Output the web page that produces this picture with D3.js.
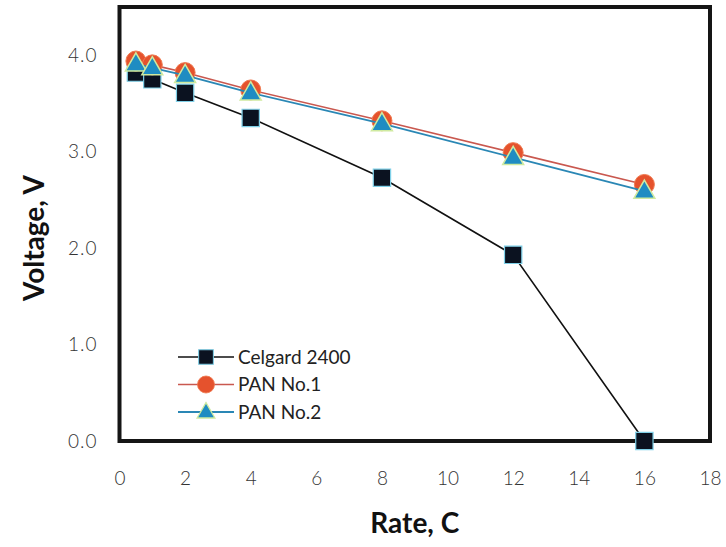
<!DOCTYPE html>
<html>
<head>
<meta charset="utf-8">
<script src="https://cdn.jsdelivr.net/npm/d3@7"></script>
<style>
  body { margin: 0; background: #fff; }
  text { font-family: Lato, "Open Sans", sans-serif; }
</style>
</head>
<body>
<script>
// data
var rates = [0.5, 1, 2, 4, 8, 12, 16];
var celgard = [3.82, 3.75, 3.61, 3.35, 2.73, 1.93, 0.0];
var pan1 = [3.94, 3.90, 3.82, 3.64, 3.32, 2.99, 2.66];
var pan2 = [3.91, 3.87, 3.79, 3.61, 3.29, 2.94, 2.59];
var seriesNames = ["Celgard 2400", "PAN No.1", "PAN No.2"];
var xTicks = [0, 2, 4, 6, 8, 10, 12, 14, 16, 18];
var yTicks = [0, 1, 2, 3, 4];

var W = 726, H = 547;
var margin = {top: 7, right: 16, bottom: 106, left: 119.5},
    width = W - margin.left - margin.right,
    height = H - margin.top - margin.bottom;

var svg = d3.select("body").append("svg")
    .attr("width", W)
    .attr("height", H);

var g = svg.append("g")
    .attr("transform", "translate(" + margin.left + "," + margin.top + ")");

var x = d3.scaleLinear().domain([0, 18]).range([0, width]);
var y = d3.scaleLinear().domain([0, 4.5]).range([height, 0]);

// axes: tick labels only, frame drawn separately
var xAxis = g.append("g")
    .attr("transform", "translate(0," + height + ")")
    .call(d3.axisBottom(x).tickValues(xTicks).tickSize(0).tickPadding(31).tickFormat(d3.format("d")));
xAxis.select(".domain").remove();
xAxis.selectAll("text").style("font-size", "19px").attr("fill", "#333").style("font-weight", 300);

var yAxis = g.append("g")
    .call(d3.axisLeft(y).tickValues(yTicks).tickSize(0).tickPadding(22).tickFormat(d3.format(".1f")));
yAxis.select(".domain").remove();
yAxis.selectAll("text").style("font-size", "19px").attr("fill", "#333").style("font-weight", 300)
    .style("letter-spacing", "1px");

// plot frame
g.append("rect")
    .attr("width", width)
    .attr("height", height)
    .attr("fill", "none")
    .attr("stroke", "#151515")
    .attr("stroke-width", 4);

var series = [
  {name: seriesNames[0], values: celgard, line: "#111", sw: 1.6, shape: "square"},
  {name: seriesNames[1], values: pan1, line: "#c9584f", sw: 1.6, shape: "circle"},
  {name: seriesNames[2], values: pan2, line: "#2a87b5", sw: 1.8, shape: "triangle"}
];

var line = d3.line()
    .x(function(d) { return x(d[0]); })
    .y(function(d) { return y(d[1]); });

function drawMarker(sel, shape) {
  if (shape === "square") {
    sel.append("path")
      .attr("d", d3.symbol().type(d3.symbolSquare).size(300))
      .attr("fill", "#0b1220")
      .attr("stroke", "#7fd0e8")
      .attr("stroke-width", 1.2);
  } else if (shape === "circle") {
    sel.append("circle")
      .attr("r", 10)
      .attr("fill", "#e5522d")
      .attr("stroke", "#f07a50")
      .attr("stroke-width", 1);
  } else {
    sel.append("path")
      .attr("d", d3.symbol().type(d3.symbolTriangle).size(190))
      .attr("transform", "translate(0,1)")
      .attr("fill", "#1f8cc2")
      .attr("stroke", "#cfeaa0")
      .attr("stroke-width", 1.5);
  }
}

series.forEach(function(s) {
  var pts = rates.map(function(r, i) { return [r, s.values[i]]; });
  g.append("path")
    .datum(pts)
    .attr("fill", "none")
    .attr("stroke", s.line)
    .attr("stroke-width", s.sw)
    .attr("d", line);
  g.selectAll(null)
    .data(pts)
    .enter().append("g")
    .attr("transform", function(d) { return "translate(" + x(d[0]) + "," + y(d[1]) + ")"; })
    .each(function() { drawMarker(d3.select(this), s.shape); });
});

// legend
var legend = svg.append("g").attr("transform", "translate(178,357)");
series.forEach(function(s, i) {
  var row = legend.append("g").attr("transform", "translate(0," + (i * 27.5) + ")");
  row.append("line")
    .attr("x1", 0).attr("x2", 56)
    .attr("stroke", s.line)
    .attr("stroke-width", s.sw);
  var m = row.append("g").attr("transform", "translate(28,0) scale(0.85)");
  drawMarker(m, s.shape);
  row.append("text")
    .attr("x", 60)
    .attr("dy", "0.35em")
    .style("font-size", "19px")
    .attr("fill", "#222")
    .text(s.name);
});

// axis titles
svg.append("text")
    .attr("x", margin.left + width / 2)
    .attr("y", 533)
    .attr("text-anchor", "middle")
    .style("font-size", "28px")
    .style("font-weight", "bold")
    .attr("fill", "#111")
    .text("Rate, C");

svg.append("text")
    .attr("transform", "translate(44," + (margin.top + height / 2 + 14) + ") rotate(-90)")
    .attr("text-anchor", "middle")
    .style("font-size", "28px")
    .style("font-weight", "bold")
    .attr("fill", "#111")
    .text("Voltage, V");
</script>
</body>
</html>
